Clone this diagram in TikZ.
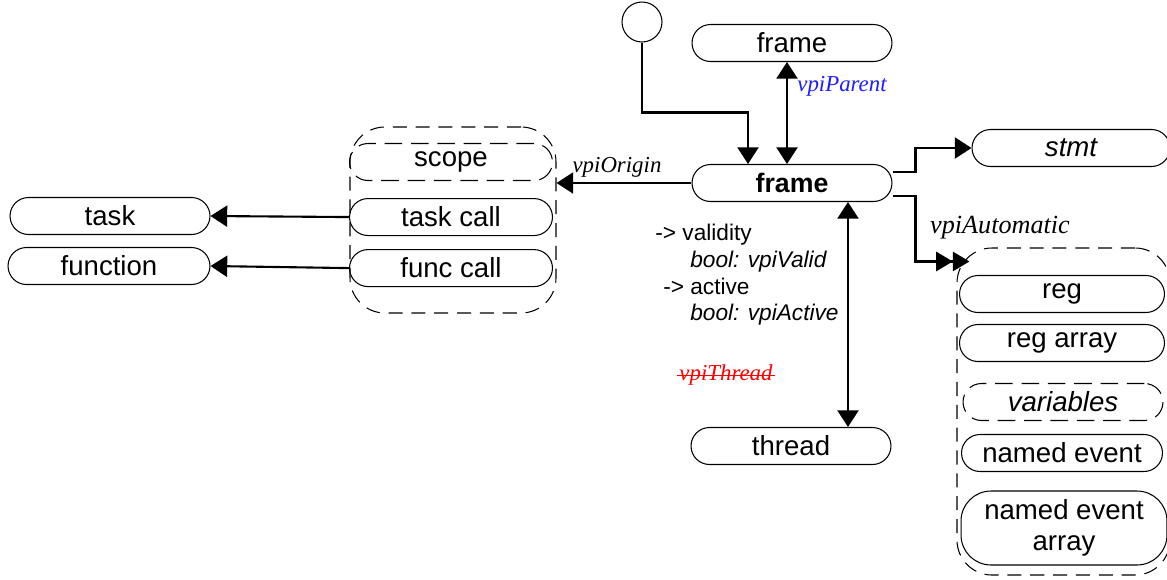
\documentclass[tikz,border=0pt]{standalone}
\usepackage{fontspec}
\setmainfont{Liberation Sans}
\newfontfamily\vpifont{Liberation Serif}
\usepackage{tikz}
\usetikzlibrary{arrows.meta, positioning, fit}
\definecolor{colParent}{RGB}{30,30,255}
\definecolor{colThread}{RGB}{255,0,0}
\tikzset{
  obj/.style={
    draw, rectangle, rounded corners=0.37cm,
    minimum width=4cm, minimum height=0.74cm, inner sep=0pt,
    font=\fontsize{15.7}{17.5}\selectfont, line width=0.6pt
  },
  dobj/.style={
    obj, dash pattern=on 10pt off 5pt
  },
  grp/.style={
    draw, rectangle, rounded corners=0.7cm, inner sep=0pt,
    dash pattern=on 8pt off 5pt, line width=0.6pt
  },
  arr/.style={
    draw, -{Triangle[length=9.5pt, width=12pt]}, line width=1.2pt
  },
  dblarr/.style={
    draw, {Triangle[length=9.5pt, width=12pt]}-{Triangle[length=9.5pt, width=12pt]}, line width=1.2pt
  },
  twoarr/.style={
    draw, -{Triangle[length=9.5pt, width=11pt]Triangle[length=9.5pt, width=11pt]}, line width=1.2pt
  },
  vpi/.style={
    font=\vpifont\itshape\fontsize{13}{15}\selectfont, inner sep=1pt
  },
  props/.style={
    font=\fontsize{12.9}{15.2}\selectfont, align=left, anchor=north west, inner sep=0pt
  },
}

\begin{document}
\begin{tikzpicture}[x=0.02cm, y=-0.02cm]
\useasboundingbox (0,0) rectangle (1167,579);

% ── Nodes ──────────────────────────────────────────────────────────────────
% centre column
\node[draw, circle, minimum size=0.8cm, inner sep=0pt, line width=0.6pt] (start) at (642,22) {};
\node[obj] (parentfrm) at (792,43) {frame};
\node[obj, font=\fontsize{15.2}{17}\selectfont\bfseries] (frm) at (792,183) {frame};
\node[obj] (thread) at (791,446) {thread};
\node[obj, minimum width=3.96cm] (stmt) at (1071,148) {\itshape stmt};

% left column: scope group
\node[dobj, minimum width=4.06cm] (scope) at (451,162) {scope};
\node[obj, minimum width=4.06cm, below=0.34cm of scope] (taskcall) {task call};
\node[obj, minimum width=4.06cm, below=0.26cm of taskcall] (funccall) {func call};
\node[grp, fit={(350,127) (556,313)}] (scopegrp) {};

\node[obj] (task) at (110,216) {task};
\node[obj, minimum width=4.04cm] (function) at (109,266) {function};

% right column: automatic variables group
\node[obj, minimum width=4.1cm] (reg) at (1062,294) {reg};
\node[obj, minimum width=4.1cm] (regarray) at (1062,343) {reg array};
\node[dobj, minimum width=4cm] (variables) at (1063,402) {\itshape variables};
\node[obj, minimum width=4.02cm] (namedevent) at (1062,453) {named event};
\node[obj, minimum width=4.12cm, minimum height=1.48cm, rounded corners=0.6cm, align=center]
  (namedeventarray) at (1064,528) {named event\\array};
\node[grp, fit={(957,248) (1170,575)}] (autogrp) {};

% ── Labels ─────────────────────────────────────────────────────────────────
\node[vpi, text=colParent] (parentlbl) at (842,86) {vpiParent};
\node[vpi] (originlbl) at (617,167) {vpiOrigin};
\node[vpi, font=\vpifont\itshape\fontsize{14.9}{16}\selectfont] (autolbl) at (1000,228) {vpiAutomatic};
\node[vpi, text=colThread] (threadlbl) at (726,375) {vpiThread};
\draw[colThread, line width=0.5pt] (threadlbl.west) -- (threadlbl.east);
\node[props] (props) at (655,224) {%
  -> validity\\
  \hspace*{19.9pt}\textit{bool: vpiValid}\\
  \hspace*{4.5pt}-> active\\
  \hspace*{19.9pt}\textit{bool: vpiActive}};

% ── Connectors ─────────────────────────────────────────────────────────────
% start -> frame
\draw[arr] (start.south) -- ++(0,70) -| ([xshift=-0.88cm]frm.north);

% frame <-> parent frame
\draw[dblarr] ([xshift=-0.1cm]parentfrm.south) -- ([xshift=-0.1cm]frm.north);

% frame <-> thread
\draw[dblarr] ([xshift=1.12cm]frm.south) -- ([xshift=1.14cm]thread.north);

% frame -> scope group
\draw[arr] (frm.west) -- (frm.west -| scopegrp.east);

% calls -> task / function
\draw[arr] (taskcall.west) -- (task.east);
\draw[arr] (funccall.west) -- (function.east);

% frame -> stmt
\draw[arr] ([yshift=0.22cm]frm.east) -- ++(23,0) |- (stmt.west);

% frame -> automatic group
\draw[twoarr] ([yshift=-0.26cm]frm.east) -- ++(23,0) |- ([shift={(13,14)}]autogrp.north west);

\end{tikzpicture}
\end{document}
